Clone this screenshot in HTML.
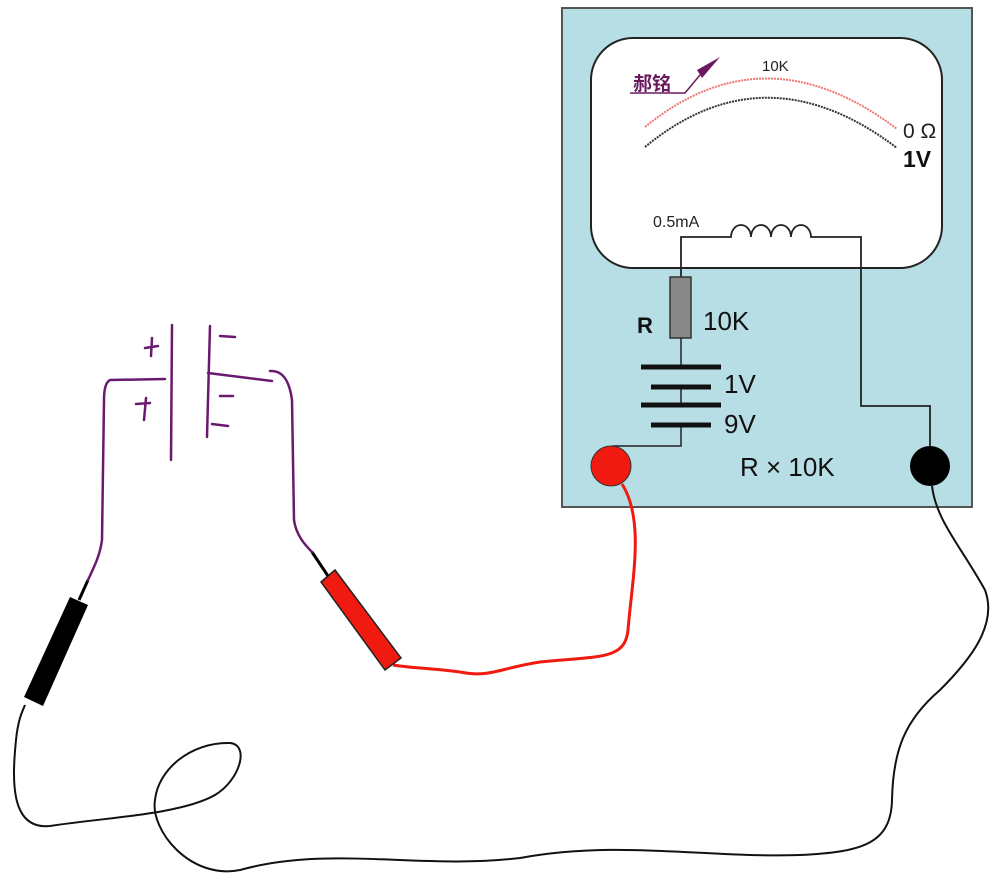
<!DOCTYPE html>
<html><head><meta charset="utf-8"><style>
html,body{margin:0;padding:0;background:#fff;}
svg{display:block;}
text{font-family:"Liberation Sans","Noto Sans CJK SC",sans-serif;}
</style></head><body>
<svg width="1000" height="876" viewBox="0 0 1000 876" xmlns="http://www.w3.org/2000/svg">
<!-- meter box -->
<rect x="562" y="8" width="410" height="499" fill="#b8dee5" stroke="#555" stroke-width="2"/>
<rect x="591" y="38" width="351" height="230" rx="42" fill="#fff" stroke="#222" stroke-width="2"/>
<!-- scale arcs -->
<path d="M645,127 Q765,29 897,129" fill="none" stroke="#e77" stroke-width="2" stroke-dasharray="2,1"/>
<path d="M645,147 Q765,48 897,148" fill="none" stroke="#333" stroke-width="2" stroke-dasharray="2,1"/>
<text x="762" y="71" font-size="15" fill="#222">10K</text>
<text x="903" y="138" font-size="21" fill="#222">0 Ω</text>
<text x="903" y="167" font-size="23" font-weight="bold" fill="#111">1V</text>
<text x="633" y="90" font-size="19" font-weight="bold" fill="#6a1a5e">郝铭</text>
<path d="M630,93 L685,93 L700,75" fill="none" stroke="#6a1a5e" stroke-width="1.5"/>
<polygon points="720,57 697,70 702,78" fill="#6a1a5e"/>
<!-- meter circuit -->
<text x="653" y="227" font-size="16" fill="#222">0.5mA</text>
<path d="M681,277 L681,237 L731,237 A10,12 0 0 1 751,237 A10,12 0 0 1 771,237 A10,12 0 0 1 791,237 A10,12 0 0 1 811,237 L861,237 L861,406 L930,406 L930,446" fill="none" stroke="#222" stroke-width="1.8"/>
<rect x="670" y="277" width="21" height="61" fill="#888" stroke="#333" stroke-width="1.5"/>
<path d="M681,338 L681,367 M681,387 L681,405 M681,425 L681,446 L612,446" fill="none" stroke="#222" stroke-width="1.5"/>
<g stroke="#111" stroke-width="5">
<line x1="641" y1="367" x2="721" y2="367"/>
<line x1="651" y1="387" x2="711" y2="387"/>
<line x1="641" y1="405" x2="721" y2="405"/>
<line x1="651" y1="425" x2="711" y2="425"/>
</g>
<text x="637" y="333" font-size="22" font-weight="bold" fill="#111">R</text>
<text x="703" y="330" font-size="26" fill="#111">10K</text>
<text x="724" y="393" font-size="26" fill="#111">1V</text>
<text x="724" y="433" font-size="26" fill="#111">9V</text>
<text x="740" y="476" font-size="26" fill="#111">R × 10K</text>
<circle cx="611" cy="466" r="20" fill="#f01a10" stroke="#333" stroke-width="1"/>
<circle cx="930" cy="466" r="20" fill="#000"/>
<!-- red lead -->
<path d="M622,484 C645,520 632,580 628,630 C625,660 600,656 540,662 C500,668 490,678 460,672 C430,668 410,668 393,665" fill="none" stroke="#f01a10" stroke-width="3"/>
<!-- black lead -->
<path d="M932,486 C936,520 960,545 985,590 C998,625 970,660 940,690 C905,720 893,750 892,800 C891,845 860,852 800,855 C700,858 620,840 520,858 C420,870 330,845 240,870 C190,880 150,830 155,800 C158,770 190,742 230,743 C250,745 240,780 215,795 C180,815 100,818 50,826 C10,830 12,780 16,740 C18,720 22,712 25,705" fill="none" stroke="#111" stroke-width="2"/>
<!-- probes -->
<polygon points="70,597 88,605 43,706 24,697" fill="#000"/>
<line x1="79" y1="600" x2="88" y2="580" stroke="#000" stroke-width="3"/>
<polygon points="321,582 335,570 401,658 385,670" fill="#f01a10" stroke="#222" stroke-width="1.5"/>
<line x1="328" y1="576" x2="312" y2="552" stroke="#000" stroke-width="3"/>
<!-- capacitor sketch -->
<g fill="none" stroke="#6a1a6e" stroke-width="2.5" stroke-linecap="round">
<path d="M88,580 C95,565 100,555 102,540 L104,400 C104,388 106,382 110,380 L165,379"/>
<path d="M172,325 L171,460"/>
<path d="M210,326 L207,437"/>
<path d="M208,373 L272,381"/>
<path d="M270,371 C285,370 290,385 292,400 L294,520 C296,535 305,545 312,552"/>
<path d="M145,348 L158,346 M152,338 L151,356"/>
<path d="M136,404 L150,403 M146,398 L144,420"/>
<path d="M220,336 L235,337"/>
<path d="M220,396 L233,396"/>
<path d="M212,424 L228,426"/>
</g>
</svg>
</body></html>
